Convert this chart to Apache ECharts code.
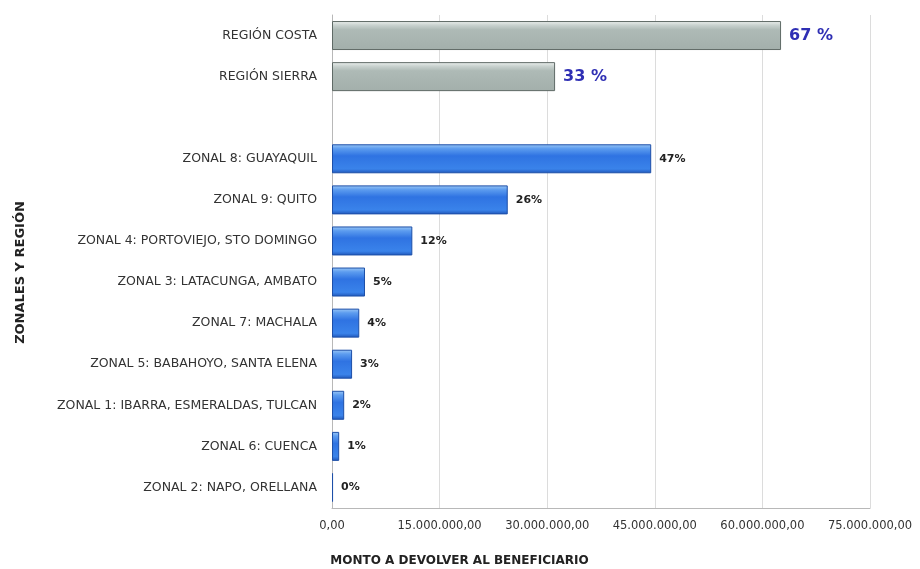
<!DOCTYPE html>
<html>
<head>
<meta charset="utf-8">
<script src="https://cdn.jsdelivr.net/npm/echarts@6/dist/echarts.min.js"></script>
<style>
  html, body { margin: 0; padding: 0; background: #ffffff; }
  #chart { width: 920px; height: 569px; }
</style>
</head>
<body>
<div id="chart"></div>
<script>
// Montos por región (gris) y por zonal (azul)
const regionNames = ['REGIÓN COSTA', 'REGIÓN SIERRA'];
const regionValues = [62600000, 31100000];

const zonalNames = [
  'ZONAL 8: GUAYAQUIL',
  'ZONAL 9: QUITO',
  'ZONAL 4: PORTOVIEJO, STO DOMINGO',
  'ZONAL 3: LATACUNGA, AMBATO',
  'ZONAL 7: MACHALA',
  'ZONAL 5: BABAHOYO, SANTA ELENA',
  'ZONAL 1: IBARRA, ESMERALDAS, TULCAN',
  'ZONAL 6: CUENCA',
  'ZONAL 2: NAPO, ORELLANA'
];
const zonalValues = [44500000, 24500000, 11200000, 4600000, 3800000, 2800000, 1700000, 1000000, 150000];

const xTicks = [0, 15000000, 30000000, 45000000, 60000000, 75000000];

const fmt = n => {
  const s = Math.round(n).toString().replace(/\B(?=(\d{3})+(?!\d))/g, '.');
  return s + ',00';
};

const regionTotal = regionValues.reduce((a, b) => a + b, 0);
const zonalTotal = zonalValues.reduce((a, b) => a + b, 0);

const grayFill = new echarts.graphic.LinearGradient(0, 0, 0, 1, [
  { offset: 0, color: '#eef2f0' },
  { offset: 0.14, color: '#c9d2cf' },
  { offset: 0.3, color: '#aebab6' },
  { offset: 1, color: '#a3afab' }
]);
const blueFill = new echarts.graphic.LinearGradient(0, 0, 0, 1, [
  { offset: 0, color: '#9cc8f6' },
  { offset: 0.15, color: '#5c9cef' },
  { offset: 0.4, color: '#2f73e2' },
  { offset: 0.85, color: '#3a83ea' },
  { offset: 1, color: '#1f55b8' }
]);

const FONT = '"DejaVu Sans", "Open Sans", sans-serif';

const categories = [...regionNames, '', ...zonalNames];
const data = [];
regionValues.forEach(v => data.push({
  value: v,
  itemStyle: { color: grayFill, borderColor: '#5f6a66', borderWidth: 1 },
  label: {
    formatter: Math.round(v / regionTotal * 100) + ' %',
    color: '#2f2fb4', fontSize: 16, fontWeight: 'bold', fontFamily: FONT
  }
}));
data.push('-');
zonalValues.forEach(v => data.push({
  value: v,
  itemStyle: { color: blueFill, borderColor: '#1d4fa8', borderWidth: 1 },
  label: {
    formatter: Math.round(v / zonalTotal * 100) + '%',
    color: '#222222', fontSize: 11, fontWeight: 'bold', fontFamily: FONT
  }
}));

const chart = echarts.init(document.getElementById('chart'), null, { renderer: 'canvas' });
chart.setOption({
  animation: false,
  backgroundColor: '#ffffff',
  textStyle: { fontFamily: FONT },
  grid: { left: 332, right: 50, top: 15, bottom: 61, containLabel: false, outerBoundsMode: 'none' },
  xAxis: {
    type: 'value',
    min: 0, max: 75000000, interval: 15000000,
    axisLine: { show: true, lineStyle: { color: '#b8b8b8' } },
    axisTick: { show: false },
    splitLine: { show: true, lineStyle: { color: '#dcdcdc' } },
    axisLabel: {
      color: '#333333', fontSize: 11.5, margin: 12, fontFamily: FONT,
      formatter: v => (v === 0 ? '0,00' : fmt(v))
    },
    name: 'MONTO A DEVOLVER AL BENEFICIARIO',
    nameLocation: 'middle',
    nameGap: 47,
    nameTextStyle: { color: '#222222', fontSize: 12, fontWeight: 'bold', fontFamily: FONT, padding: [0, 0, 0, -283] }
  },
  yAxis: {
    type: 'category',
    inverse: true,
    data: categories,
    axisLine: { show: true, lineStyle: { color: '#b8b8b8' } },
    axisTick: { show: false },
    axisLabel: { color: '#333333', fontSize: 12.5, margin: 15, fontFamily: FONT },
    name: 'ZONALES Y REGIÓN',
    nameLocation: 'middle',
    nameRotate: 90,
    nameGap: 305,
    nameTextStyle: { color: '#222222', fontSize: 13, fontWeight: 'bold', fontFamily: FONT, padding: [0, 0, 0, -22] }
  },
  series: [{
    type: 'bar',
    data: data,
    barWidth: 29,
    label: { show: true, position: 'right', distance: 8 }
  }]
});
</script>
</body>
</html>
